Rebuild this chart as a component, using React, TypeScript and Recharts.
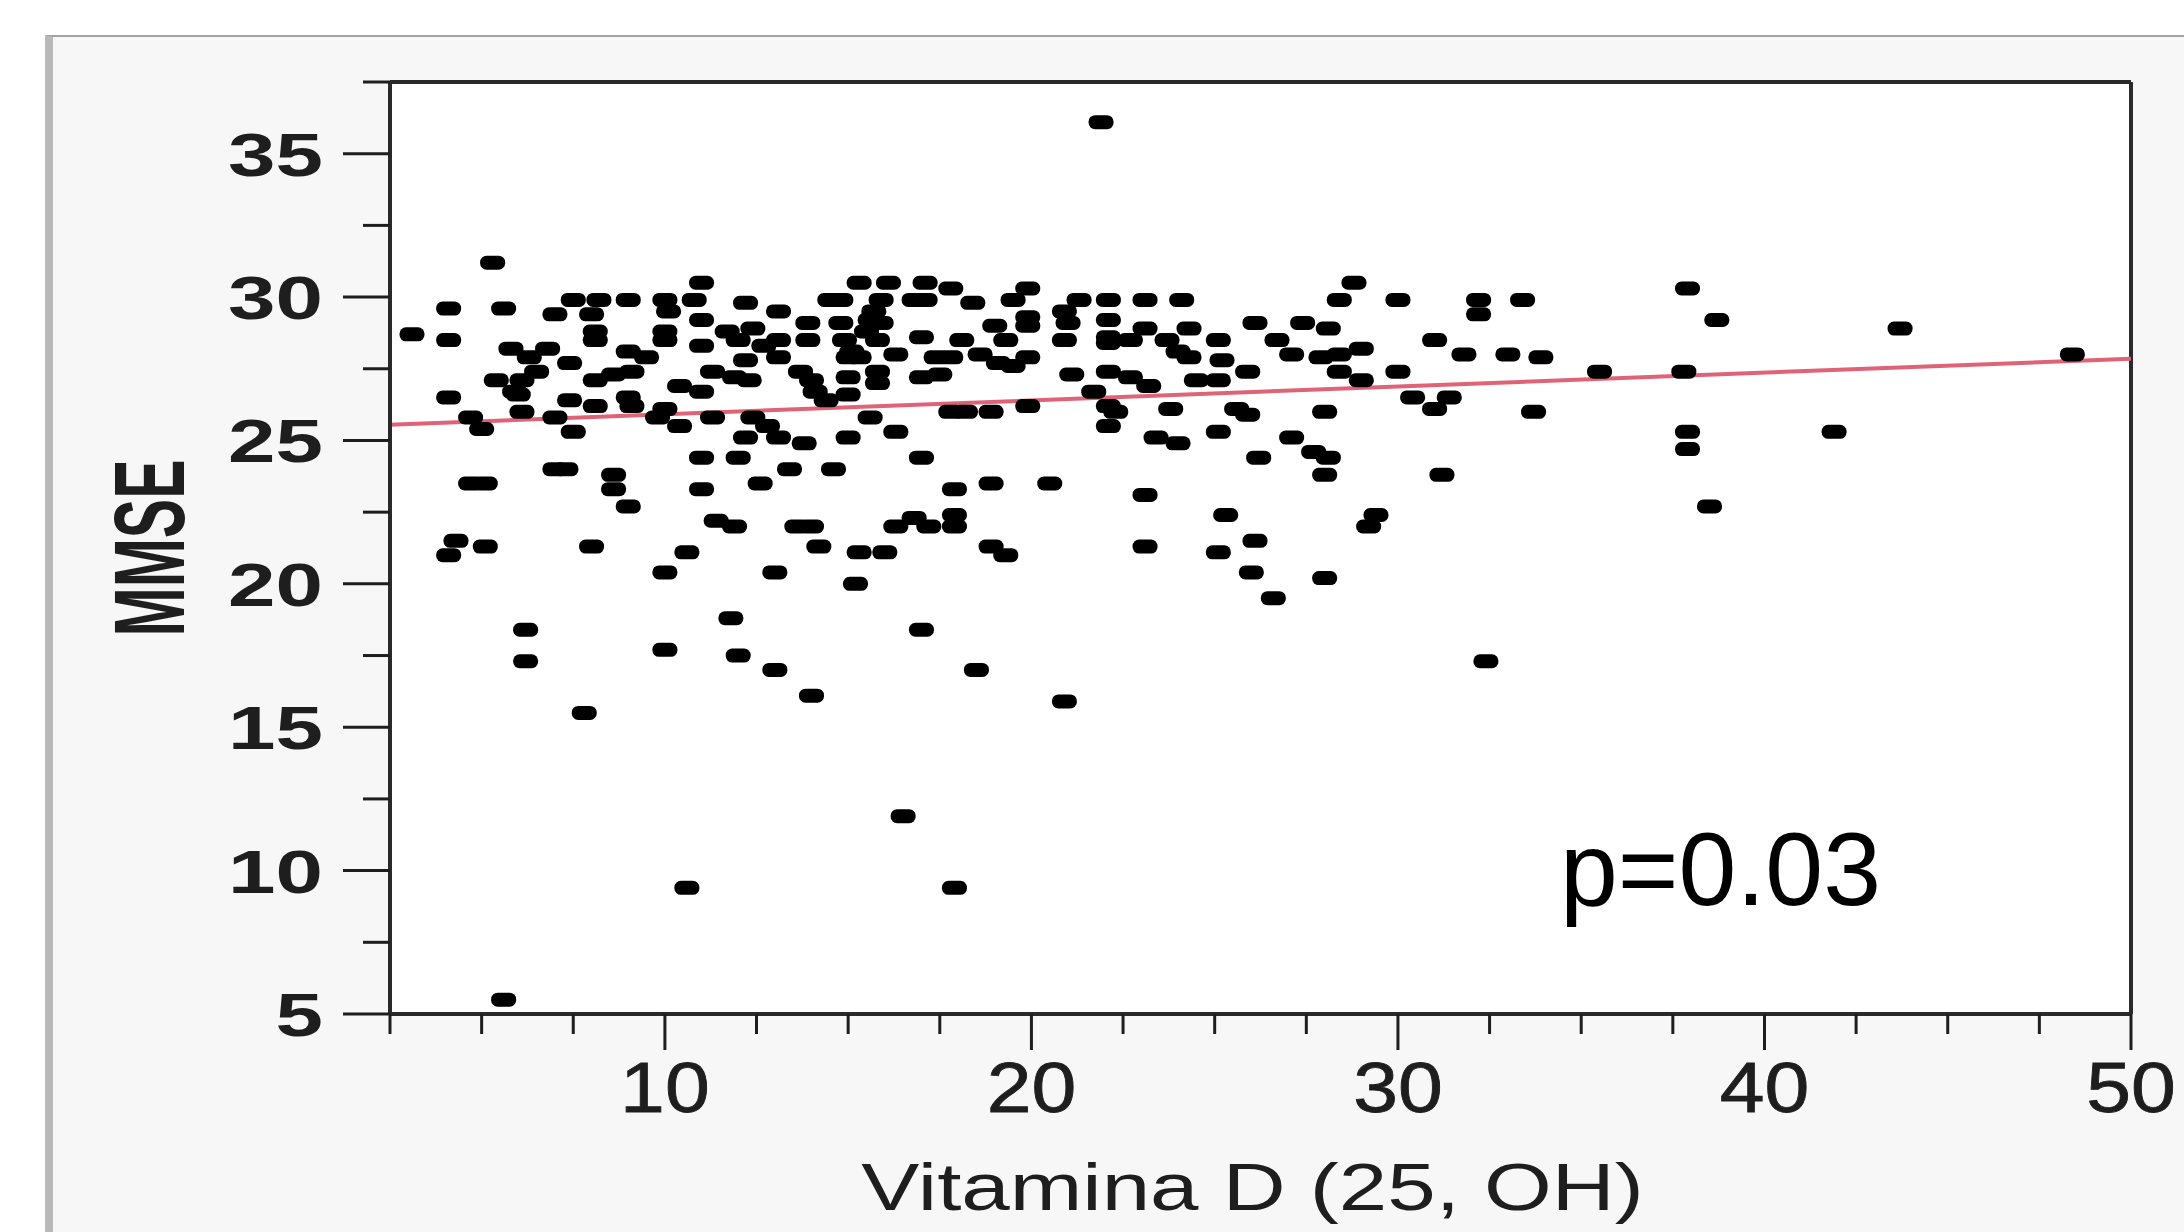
import {
  ScatterChart,
  Scatter,
  XAxis,
  YAxis,
  CartesianGrid,
  ReferenceLine,
} from 'recharts';

// Vitamina D (25, OH) vs MMSE, one entry per patient (same index in both arrays)
const vitaminD = [
  5.3, 4.1, 5.6, 3.1, 4.1, 7.0, 7.5, 8.2, 8.0, 9.0, 10.0, 10.8, 11.0, 10.1, 12.2,
  8.1, 8.1, 10.0, 10.0, 11.0, 11.7, 12.0, 12.4, 11.0, 12.2, 12.7, 5.8, 6.3, 6.5,
  6.1, 5.4, 5.9, 6.0, 6.1, 6.8, 7.4, 4.1, 9.0, 9.5, 9.1, 8.1, 8.6, 11.3, 11.9,
  12.3, 10.4, 11.0, 9.0, 9.1, 7.4, 8.1, 4.7, 5.0, 7.0, 7.5, 10.0, 10.4, 9.8, 11.3,
  12.4, 12.8, 12.2, 11.0, 12.0, 7.0, 7.3, 8.6, 8.6, 9.0, 4.7, 5.1, 11.0, 12.6,
  11.4, 11.9, 4.3, 4.1, 5.1, 8.0, 10.6,
  15.3, 16.1, 17.1, 17.8, 14.5, 14.8, 15.9, 16.8, 17.1, 18.4, 19.9, 19.5, 21.3,
  22.1, 23.1, 24.1, 13.1, 15.7, 15.6, 15.9, 15.5, 13.9, 14.8, 13.9, 13.1, 14.9,
  15.1, 15.3, 15.0, 15.8, 17.0, 18.1, 19.0, 19.3, 19.9, 19.9, 20.9, 21.0, 20.9,
  22.1, 22.1, 22.1, 22.7, 23.1, 23.7, 24.0, 13.1, 13.7, 14.0, 14.1, 14.4, 15.0,
  15.0, 15.8, 15.8, 16.3, 17.0, 17.5, 17.8, 17.4, 18.6, 19.1, 19.5, 19.9, 21.1,
  22.1, 22.7, 23.2, 21.7, 15.6, 17.8, 18.2, 18.9, 19.9, 22.1, 22.3, 22.1, 23.8,
  13.1, 13.8, 15.0, 16.3, 17.0, 13.4, 14.6, 23.4, 24.0, 17.9, 18.9, 20.5, 23.1,
  13.6, 14.0, 16.3, 16.8, 17.2, 17.9, 17.9, 14.2, 15.3, 16.0, 18.9, 19.3, 23.1,
  28.8, 28.4, 30.0, 32.2, 32.2, 33.4, 24.3, 26.1, 27.4, 28.1, 25.1, 26.7, 31.0,
  24.3, 25.2, 25.9, 27.1, 27.9, 28.4, 29.0, 28.4, 30.0, 31.8, 33.0, 33.9, 24.5,
  25.1, 29.0, 25.6, 25.9, 28.0, 30.4, 31.4, 31.0, 33.7, 25.1, 27.1, 26.2, 27.7,
  28.1, 28.0, 31.2, 25.3, 29.4, 29.2, 26.1, 25.1,
  37.9, 38.7, 43.7, 48.4, 35.5, 37.8, 37.9, 37.9, 41.9, 38.5,
  10.0, 13.0, 15.2, 6.2, 6.2, 10.0, 11.8, 12.0, 13.0, 14.0, 17.0, 18.5, 20.9,
  16.5, 10.6, 17.9, 7.8, 5.6, 26.0, 28.0, 26.6, 32.4, 21.9,
];

const mmse = [
  31.2, 29.6, 29.6, 28.7, 28.5, 29.4, 29.9, 29.9, 29.4, 29.9, 29.9, 29.9, 30.5, 29.5, 29.8,
  28.8, 28.5, 28.8, 28.5, 29.2, 28.8, 28.5, 28.9, 28.3, 27.8, 28.3, 28.2, 27.9, 27.4,
  27.1, 27.1, 26.7, 26.6, 26.0, 28.2, 27.7, 26.5, 28.1, 27.9, 27.4, 27.1, 27.3, 27.4, 27.2,
  27.1, 26.9, 26.7, 26.5, 26.2, 26.4, 26.2, 25.8, 25.4, 25.8, 25.3, 26.1, 25.5, 25.8, 25.8,
  25.8, 25.5, 25.1, 24.4, 24.4, 24.0, 24.0, 23.8, 23.3, 22.7, 23.5, 23.5, 23.3, 23.5,
  22.2, 22.0, 21.5, 21.0, 21.3, 21.3, 21.1,
  30.5, 30.5, 30.5, 30.3, 29.9, 29.9, 29.9, 29.9, 29.9, 29.8, 30.3, 29.9, 29.9,
  29.9, 29.9, 29.9, 29.5, 29.5, 29.2, 29.1, 28.8, 29.1, 29.1, 28.5, 28.5, 28.5,
  28.1, 27.9, 27.9, 28.5, 28.6, 28.5, 29.0, 28.5, 29.3, 29.0, 29.5, 29.1, 28.5,
  29.2, 28.6, 28.4, 28.5, 28.9, 28.5, 28.1, 27.9, 27.4, 27.1, 26.7, 26.4, 27.2,
  26.6, 27.4, 27.0, 28.0, 27.2, 27.3, 27.9, 27.9, 28.0, 27.7, 27.6, 27.9, 27.3,
  27.4, 27.2, 26.9, 26.7, 25.8, 26.0, 26.0, 26.0, 26.2, 26.2, 26.0, 25.5, 26.1,
  25.1, 24.9, 25.1, 25.3, 24.4, 24.0, 24.0, 25.1, 24.9, 23.3, 23.5, 23.5, 23.1,
  22.0, 22.0, 22.0, 22.3, 22.0, 22.4, 22.0, 21.3, 21.1, 21.1, 21.3, 21.0, 21.3,
  30.5, 29.9, 29.9, 29.9, 29.4, 29.9, 28.9, 29.1, 29.1, 28.9, 28.5, 28.5, 28.5,
  27.9, 27.8, 27.4, 28.0, 27.9, 28.0, 28.2, 27.4, 27.4, 28.0, 28.0, 27.9, 27.1,
  27.1, 27.1, 26.1, 25.9, 26.0, 26.5, 26.5, 26.1, 26.0, 25.3, 25.1, 24.4, 24.6,
  24.4, 23.8, 23.8, 22.4, 22.4, 22.0, 21.5, 21.1,
  30.3, 29.2, 28.9, 28.0, 27.4, 27.4, 25.3, 24.7, 25.3, 22.7,
  20.4, 20.4, 20.0, 18.4, 17.3, 17.7, 18.8, 17.5, 17.0, 16.1, 18.4, 17.0, 15.9,
  11.9, 9.4, 9.4, 15.5, 5.5, 20.4, 20.2, 19.5, 17.3, 36.1,
];

const xTicks = [2.5, 5, 7.5, 10, 12.5, 15, 17.5, 20, 22.5, 25, 27.5, 30, 32.5, 35, 37.5, 40, 42.5, 45, 47.5, 50];
const yTicks = [5, 7.5, 10, 12.5, 15, 17.5, 20, 22.5, 25, 27.5, 30, 32.5, 35, 37.5];

// fitted regression line end points
const fitStart = { x: 2.5, y: 25.55 };
const fitEnd = { x: 50, y: 27.85 };

const pLabel = 'p=0.03';

const points = vitaminD.map((x, i) => ({ x, y: mmse[i] }));

const FONT = '"Liberation Sans", Arial, sans-serif';
const INK = '#1e1e1e';

function XTick({ x, y, payload }: any) {
  const v = payload.value;
  const major = v % 10 === 0;
  return (
    <g>
      <line x1={x} x2={x} y1={y} y2={y + (major ? 36 : 20)} stroke={INK} strokeWidth={3} />
      {major && (
        <text
          transform={`translate(${x},${y + 98}) scale(1.15,1)`}
          textAnchor="middle"
          fontFamily={FONT}
          fontSize={70}
          fill={INK}
          stroke={INK}
          strokeWidth={0.8}
        >
          {v}
        </text>
      )}
    </g>
  );
}

function YTick({ x, y, payload }: any) {
  const v = payload.value;
  const major = v % 5 === 0;
  return (
    <g>
      <line x1={x - (major ? 47 : 27)} x2={x} y1={y} y2={y} stroke={INK} strokeWidth={3} />
      {major && (
        <text
          transform={`translate(${x - 67},${y + 22}) scale(1.4,1)`}
          textAnchor="end"
          fontFamily={FONT}
          fontWeight="bold"
          fontSize={61}
          fill={INK}
        >
          {v}
        </text>
      )}
    </g>
  );
}

function Dot({ cx, cy }: any) {
  return <rect x={cx - 12.5} y={cy - 7} width={25} height={14} rx={6.5} fill="#000" />;
}

export default function App() {
  return (
    <div style={{ position: 'absolute', left: 0, top: 0, width: 2184, height: 1232, background: '#fff', overflow: 'hidden' }}>
      <div
        style={{
          position: 'absolute',
          left: 45,
          top: 35,
          right: 0,
          bottom: 0,
          background: '#f7f7f7',
          borderLeft: '8px solid #b9b9b9',
          borderTop: '2px solid #a3a3a3',
        }}
      />
      <div style={{ position: 'absolute', left: 0, top: 0 }}>
        <ScatterChart width={2184} height={1232} margin={{ top: 82, right: 53, bottom: 18, left: 90 }}>
          <CartesianGrid fill="#fff" horizontal={false} vertical={false} stroke="none" />
          <XAxis
            type="number"
            dataKey="x"
            domain={[2.5, 50]}
            ticks={xTicks}
            interval={0}
            height={200}
            tickSize={0}
            tickMargin={0}
            tickLine={false}
            tick={<XTick />}
            axisLine={{ stroke: '#2a2a2a', strokeWidth: 4 }}
            allowDataOverflow
            label={{
              content: ({ viewBox }: any) => (
                <text
                  transform={`translate(${viewBox.x + viewBox.width / 2 - 8},${viewBox.y + 196}) scale(1.3,1)`}
                  textAnchor="middle"
                  fontFamily={FONT}
                  fontSize={67}
                  fill={INK}
                >
                  Vitamina D (25, OH)
                </text>
              ),
            }}
          />
          <YAxis
            type="number"
            dataKey="y"
            domain={[5, 37.5]}
            ticks={yTicks}
            interval={0}
            width={300}
            tickSize={0}
            tickMargin={0}
            tickLine={false}
            tick={<YTick />}
            axisLine={{ stroke: '#2a2a2a', strokeWidth: 4 }}
            allowDataOverflow
            label={{
              content: ({ viewBox }: any) => (
                <text
                  transform={`translate(${viewBox.x + 94},${viewBox.y + viewBox.height / 2}) scale(1.7,1) rotate(-90)`}
                  textAnchor="middle"
                  fontFamily={FONT}
                  fontWeight="bold"
                  fontSize={59}
                  fill={INK}
                >
                  MMSE
                </text>
              ),
            }}
          />
          <ReferenceLine y={37.5} stroke="#2a2a2a" strokeWidth={4} />
          <ReferenceLine x={50} stroke="#2a2a2a" strokeWidth={4} />
          <Scatter data={points} shape={<Dot />} isAnimationActive={false} />
          <ReferenceLine segment={[fitStart, fitEnd]} stroke="#df6377" strokeWidth={4} />
        </ScatterChart>
      </div>
      <div
        style={{
          position: 'absolute',
          left: 1560,
          top: 817,
          fontFamily: FONT,
          fontSize: 104,
          lineHeight: 1,
          color: '#000',
          whiteSpace: 'nowrap',
        }}
      >
        {pLabel}
      </div>
    </div>
  );
}
